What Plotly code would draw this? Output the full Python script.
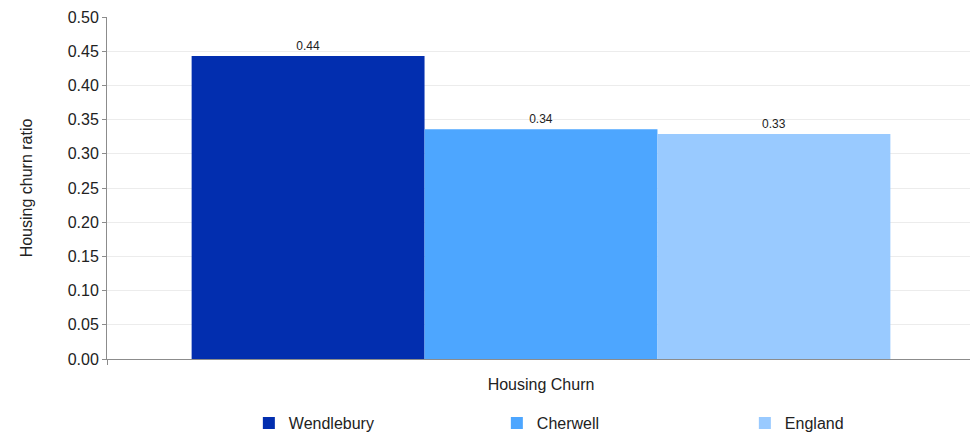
import plotly.graph_objects as go

categories = ["Housing Churn"]
series_names = ["Wendlebury", "Cherwell", "England"]
series_values = [[0.443], [0.336], [0.329]]
series_labels = ["0.44", "0.34", "0.33"]
colors = ["#022EAF", "#4DA6FF", "#99CAFF"]
y_ticks = [0.0, 0.05, 0.10, 0.15, 0.20, 0.25, 0.30, 0.35, 0.40, 0.45, 0.50]

fig = go.Figure()
for name, vals, lab, col in zip(series_names, series_values, series_labels, colors):
    fig.add_trace(go.Bar(
        x=categories, y=vals, name=name, marker=dict(color=col, line=dict(width=0)),
        text=[lab], textposition="outside", cliponaxis=False,
        textfont=dict(size=12, color="#222222", family="Liberation Sans, Arial, sans-serif"),
    ))

fig.update_layout(
    width=978, height=433,
    margin=dict(l=99, r=11, t=9, b=82, autoexpand=False),
    paper_bgcolor="white", plot_bgcolor="white",
    font=dict(family="Liberation Sans, Arial, sans-serif", size=16, color="#222222"),
    barmode="group", bargap=0.195, bargroupgap=0,
    showlegend=True,
    legend=dict(orientation="h", x=0.592, xanchor="center", xref="paper",
                y=18/433, yanchor="middle", yref="container",
                entrywidth=203, entrywidthmode="pixels", font=dict(size=16),
                itemwidth=30, traceorder="normal"),
)
fig.update_xaxes(
    title=dict(text="Housing Churn", font=dict(size=16), standoff=19),
    showticklabels=False, tickson="boundaries", ticks="outside", ticklen=5,
    tickcolor="#8c8c8c", showline=True, linecolor="#8c8c8c", linewidth=1,
    showgrid=False, automargin=False,
)
fig.update_yaxes(
    title=dict(text="Housing churn ratio", font=dict(size=16), standoff=31),
    range=[0, 0.5], tickvals=y_ticks, tickformat=".2f",
    ticks="outside", ticklen=4, tickcolor="#8c8c8c",
    showline=True, linecolor="#8c8c8c", linewidth=1,
    showgrid=True, gridcolor="#ececec", gridwidth=1, zeroline=False,
    tickfont=dict(size=16), automargin=False,
)
fig.write_html("out.html")
